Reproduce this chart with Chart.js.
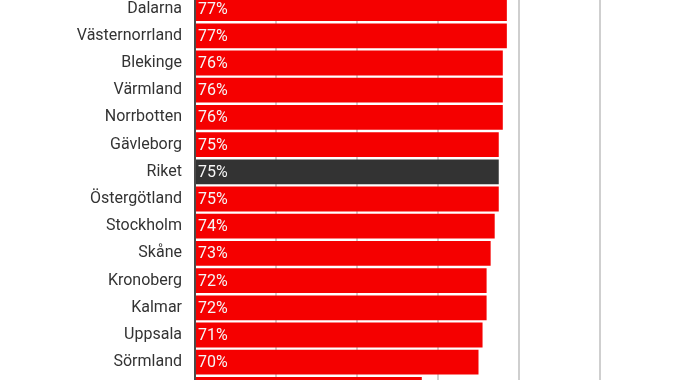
<!DOCTYPE html>
<html>
<head>
<meta charset="utf-8">
<script src="https://cdn.jsdelivr.net/npm/chart.js@4"></script>
<style>
  html, body { margin: 0; padding: 0; background: #fff; width: 676px; height: 380px; overflow: hidden; }
  #c { position: absolute; left: 0; top: -5px; }
</style>
</head>
<body>
<canvas id="c" width="676" height="408" style="width:676px;height:408px"></canvas>
<script>
const categories = ["Dalarna", "Västernorrland", "Blekinge", "Värmland", "Norrbotten", "Gävleborg", "Riket", "Östergötland", "Stockholm", "Skåne", "Kronoberg", "Kalmar", "Uppsala", "Sörmland", "Gotland"];
const values = [77, 77, 76, 76, 76, 75, 75, 75, 74, 73, 72, 72, 71, 70, 56];
const highlight = "Riket";
const xTicks = [0, 20, 40, 60, 80, 100];

const barColors = categories.map(c => c === highlight ? "#333333" : "#f50000");

const valueLabels = {
  id: "valueLabels",
  afterDatasetsDraw(chart) {
    const ctx = chart.ctx;
    const meta = chart.getDatasetMeta(0);
    ctx.save();
    ctx.font = "16px Roboto";
    ctx.fillStyle = "#f5f5f5";
    ctx.textAlign = "left";
    ctx.textBaseline = "middle";
    meta.data.forEach((bar, i) => {
      ctx.fillText(values[i] + "%", bar.base + 2, bar.y + 1);
    });
    ctx.restore();
  }
};

new Chart(document.getElementById("c"), {
  type: "bar",
  data: {
    labels: categories,
    datasets: [{
      data: values,
      backgroundColor: barColors,
      borderWidth: 0,
      barPercentage: 0.91,
      categoryPercentage: 1
    }]
  },
  options: {
    indexAxis: "y",
    responsive: false,
    animation: false,
    layout: { padding: { left: 0, right: 76, top: 0, bottom: 0 } },
    plugins: { legend: { display: false }, tooltip: { enabled: false } },
    scales: {
      x: {
        min: 0,
        max: 100,
        afterBuildTicks(scale) { scale.ticks = xTicks.map(v => ({ value: v })); },
        afterFit(scale) { scale.height = 0; scale.paddingLeft = 0; scale.paddingRight = 0; },
        ticks: { display: false },
        grid: { color: "#cfcfcf", lineWidth: 2, drawTicks: false },
        border: { display: false }
      },
      y: {
        afterFit(scale) { scale.width = 195; scale.paddingTop = 0; scale.paddingBottom = 0; },
        ticks: { color: "#333333", font: { family: "Roboto", size: 16 }, padding: 13 },
        grid: { display: false, drawTicks: false },
        border: { display: true, color: "#4a4a4a", width: 2 }
      }
    }
  },
  plugins: [valueLabels]
});
</script>
</body>
</html>
